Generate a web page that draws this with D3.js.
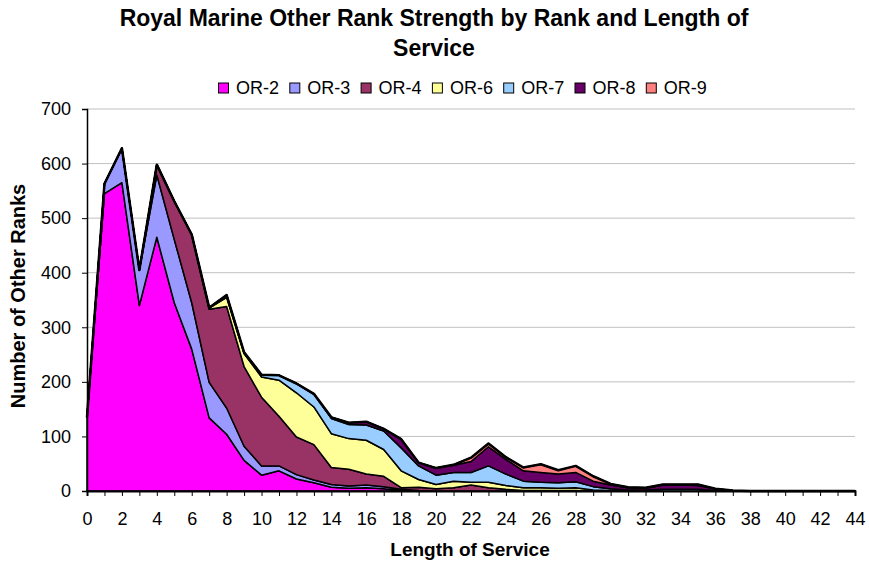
<!DOCTYPE html>
<html><head><meta charset="utf-8">
<script src="https://cdn.jsdelivr.net/npm/d3@7"></script>
<style>
html,body{margin:0;padding:0;background:#fff;}
svg{display:block;font-family:"Liberation Sans",Arial,sans-serif;}
</style></head>
<body><svg id="c" width="869" height="566"></svg>
<script>
const years = d3.range(0, 45);
const rankNames = ["OR-2","OR-3","OR-4","OR-6","OR-7","OR-8","OR-9"];
const rankColors = ["#FF00FF","#9999FF","#993366","#FFFF99","#99CCFF","#660066","#FF8080"];
const or2 = [135,545,565,340,465,345,260,134,104,56,29,37,22,15,7,5,6,4,1,1,0,0,0,0,0,0,0,0,0,0,0,0,0,0,0,0,0,0,0,0,0,0,0,0,0];
const or3 = [0,18,63,65,114,116,85,65,48,26,17,9,8,5,5,4,5,4,2,0,0,0,0,0,0,0,0,0,0,0,0,0,0,0,0,0,0,0,0,0,0,0,0,0,0];
const or4 = [0,0,0,0,19,70,125,134,186,146,126,91,69,65,31,31,20,19,3,6,4,6,11,6,3,1,1,1,1,0,0,0,0,0,0,0,0,0,0,0,0,0,0,0,0];
const or6 = [0,0,0,0,0,0,0,2,17,24,37,66,81,69,62,56,62,49,31,14,8,12,5,10,7,5,5,4,5,2,1,0,0,0,0,0,0,0,0,0,0,0,0,0,0];
const or7 = [0,0,0,0,0,0,0,1,4,2,4,9,17,23,28,26,28,34,42,25,17,16,18,30,21,12,10,10,11,6,3,2,2,3,3,3,1,0,0,0,0,0,0,0,0];
const or8 = [0,0,0,0,0,0,0,0,0,0,0,0,0,1,2,3,6,4,16,6,13,13,20,35,27,19,18,16,17,10,7,4,3,8,8,7,3,1,0,0,0,0,0,0,0];
const or9 = [0,0,0,0,0,0,0,0,0,0,0,0,0,0,0,0,0,0,0,0,0,1,7,6,4,6,15,7,12,9,2,1,1,1,1,2,0,0,0,0,0,0,0,0,0];
const yTicks = [0,100,200,300,400,500,600,700];
const xLabels = d3.range(0, 45, 2);

const seriesVals = [or2,or3,or4,or6,or7,or8,or9];
const table = years.map((yr,i)=>{
  const row = {year: yr};
  rankNames.forEach((n,k)=>row[n]=seriesVals[k][i]);
  return row;
});

const svg = d3.select("#c");
const L=87, R=855, T=109, B=491;
const x = d3.scaleLinear().domain([0,44]).range([L,R]);
const y = d3.scaleLinear().domain([0,700]).range([B,T]);
const FONT = "Liberation Sans, Arial, sans-serif";

// gridlines
svg.append("g").selectAll("line").data(yTicks.filter(d=>d>0)).join("line")
  .attr("x1",L).attr("x2",R).attr("y1",d=>y(d)).attr("y2",d=>y(d))
  .attr("stroke","#c0c0c0").attr("stroke-width",1);

const stacked = d3.stack().keys(rankNames)(table);
const area = d3.area().x(d=>x(d.data.year)).y0(d=>y(d[0])).y1(d=>y(d[1]));
svg.append("g").selectAll("path").data(stacked).join("path")
  .attr("d",area).attr("fill",(d,i)=>rankColors[i])
  .attr("stroke","#000").attr("stroke-width",1.5).attr("stroke-linejoin","round");

// top outline thicker
const topLine = d3.line().x(d=>x(d.data.year)).y(d=>y(d[1]));
svg.append("path").datum(stacked[stacked.length-1]).attr("d",topLine)
  .attr("fill","none").attr("stroke","#000").attr("stroke-width",2.5).attr("stroke-linejoin","round");

// axes
const yAxis = svg.append("g").attr("transform",`translate(${L},0)`)
  .call(d3.axisLeft(y).tickValues(yTicks).tickSize(5).tickPadding(11).tickFormat(d3.format("d")));
yAxis.select(".domain").attr("stroke","#000").attr("stroke-width",1.5);
yAxis.selectAll("text").attr("font-size",18).attr("fill","#000").attr("font-family",FONT);

const xAxis = svg.append("g").attr("transform",`translate(0,${B})`)
  .call(d3.axisBottom(x).tickValues(years).tickSize(5).tickPadding(16)
    .tickFormat(d=> xLabels.includes(d) ? d : ""));
xAxis.select(".domain").attr("stroke","#000").attr("stroke-width",2);
xAxis.selectAll("text").attr("font-size",18).attr("fill","#000").attr("font-family",FONT);

// title
const title = svg.append("text").attr("text-anchor","middle").attr("font-weight","bold").attr("font-size",23).attr("fill","#000");
title.append("tspan").attr("x",434).attr("y",26).text("Royal Marine Other Rank Strength by Rank and Length of");
title.append("tspan").attr("x",434).attr("y",56).text("Service");

// axis titles
svg.append("text").attr("text-anchor","middle").attr("font-weight","bold").attr("font-size",20)
  .attr("transform","translate(25,296) rotate(-90)").text("Number of Other Ranks");
svg.append("text").attr("text-anchor","middle").attr("font-weight","bold").attr("font-size",19)
  .attr("x",470).attr("y",556).text("Length of Service");

// legend
const lg = svg.append("g").selectAll("g").data(rankNames).join("g")
  .attr("transform",(d,i)=>`translate(${218 + i*71.3},0)`);
lg.append("rect").attr("x",0.5).attr("y",83).attr("width",10).attr("height",10)
  .attr("fill",(d,i)=>rankColors[i]).attr("stroke","#000").attr("stroke-width",1);
lg.append("text").attr("x",18).attr("y",94).attr("font-size",18).text(d=>d);
</script>
</body></html>
